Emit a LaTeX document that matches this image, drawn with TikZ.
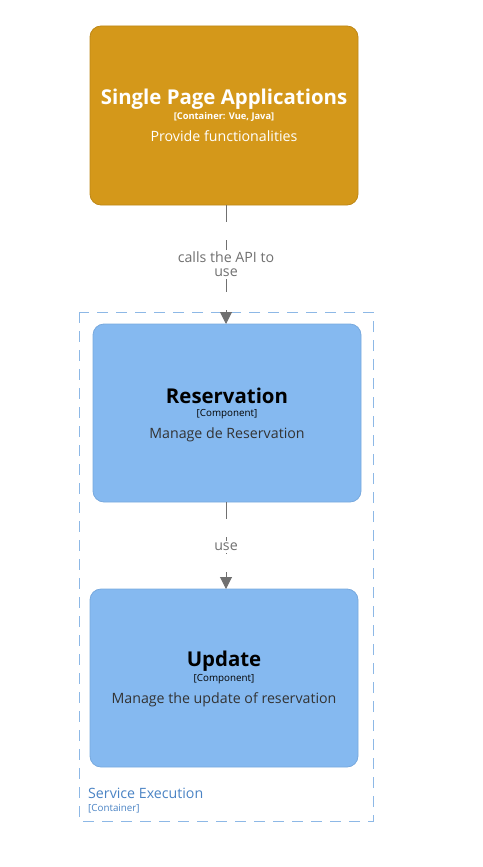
\documentclass[tikz,border=0pt]{standalone}
\usepackage{fontspec}
\setmainfont{Open Sans}
\usetikzlibrary{arrows.meta}
\definecolor{spafill}{HTML}{D4981A}
\definecolor{spadraw}{HTML}{BE8716}
\definecolor{compfill}{HTML}{85B9F0}
\definecolor{compdraw}{HTML}{78A9DE}
\definecolor{contdraw}{HTML}{8DB8E6}
\definecolor{conttext}{HTML}{4A83C4}
\definecolor{linecol}{HTML}{707070}
\definecolor{desctext}{HTML}{333333}
\begin{document}
\begin{tikzpicture}[x=1pt,y=-1pt,
  boxstyle/.style={rounded corners=11pt, line width=0.8pt},
  rel/.style={draw=linecol, line width=1pt, dash pattern=on 17pt off 18pt,
    -{Triangle[width=12pt,length=12pt]}},
  rellabel/.style={fill=white, text=linecol, font=\fontsize{14.2}{16}\selectfont, align=center, inner sep=2pt},
  ttl/.style={font=\bfseries\fontsize{20.4}{24}\selectfont},
  typ/.style={font=\fontsize{9.8}{12}\selectfont},
  dsc/.style={font=\fontsize{14.2}{17}\selectfont}
]
\useasboundingbox (0,0) rectangle (482,867);
% container
\draw[contdraw, line width=0.8pt, dash pattern=on 11pt off 8pt] (79,312) rectangle (373,821);
\node[anchor=west, text=conttext, font=\fontsize{14.2}{16}\selectfont, inner sep=0pt] (ctitle) at (88,793) {Service Execution};
\node[anchor=west, text=conttext, font=\fontsize{9.8}{12}\selectfont, inner sep=0pt] (ctype) at (88,809) {[Container]};
% boxes
\draw[boxstyle, fill=spafill, draw=spadraw] (90,26) rectangle (358,205);
\node[text=white, ttl] (spat) at (224,99) {Single Page Applications};
\node[text=white, font=\bfseries\fontsize{9.3}{11}\selectfont] (spas) at (224,117) {[Container: Vue, Java]};
\node[text=white, dsc] (spad) at (224,136) {Provide functionalities};

\draw[boxstyle, fill=compfill, draw=compdraw] (93,324) rectangle (361,502);
\node[text=black, ttl] (rest) at (227,396) {Reservation};
\node[text=black, typ] (ress) at (227,414) {[Component]};
\node[text=desctext, dsc] (resd) at (227,435) {Manage de Reservation};

\draw[boxstyle, fill=compfill, draw=compdraw] (90,589) rectangle (358,767);
\node[text=black, ttl] (updt) at (224,661) {Update};
\node[text=black, typ] (upds) at (224,679) {[Component]};
\node[text=desctext, dsc] (updd) at (224,700) {Manage the update of reservation};

\coordinate (a1s) at (226,205);
\coordinate (a1e) at (226,324);
\coordinate (a2s) at (226,502);
\coordinate (a2e) at (226,589);
\draw[rel] (a1s) -- (a1e);
\draw[rel] (a2s) -- (a2e);
\node[rellabel] (l1) at (226,264.5) {calls the API to\\[-2pt]use};
\node[rellabel] (l2) at (226,547) {use};
\end{tikzpicture}
\end{document}
